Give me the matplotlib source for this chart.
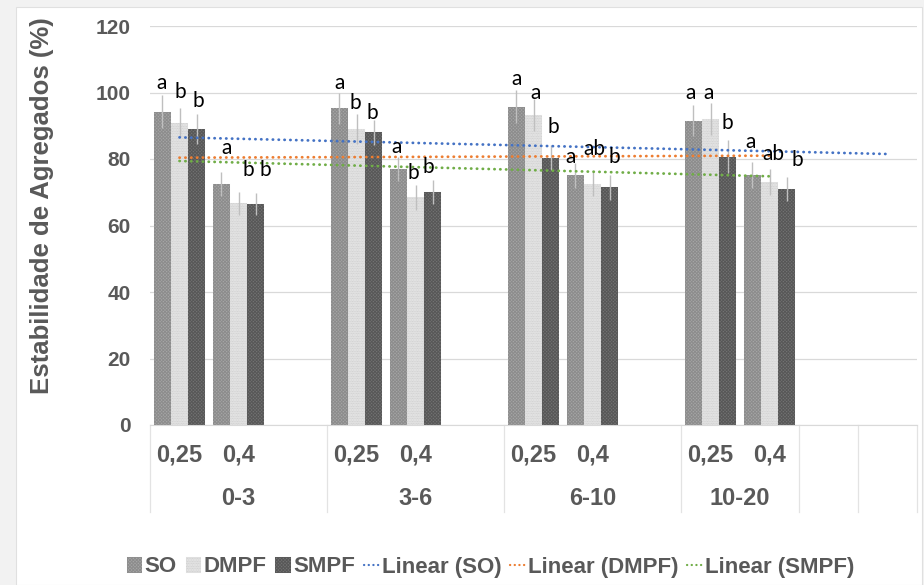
import numpy as np
import matplotlib
matplotlib.use("Agg")
import matplotlib.pyplot as plt
from matplotlib.patches import Patch, Rectangle
from matplotlib.lines import Line2D

# dados
depths = ['0-3', '3-6', '6-10', '10-20']
sizes = ['0,25', '0,4']
series = ['SO', 'DMPF', 'SMPF']

so = [94.2, 72.4, 95.2, 77.1, 95.7, 75.1, 91.5, 75.2]
dmpf = [90.9, 66.7, 89.0, 68.5, 93.2, 72.5, 92.0, 73.0]
smpf = [89.0, 66.4, 88.0, 70.1, 80.4, 71.5, 80.7, 71.0]

so_err = [4.9, 3.6, 4.8, 3.6, 5.0, 3.8, 4.7, 3.8]
dmpf_err = [4.3, 3.5, 4.5, 3.7, 4.8, 3.7, 4.7, 3.9]
smpf_err = [4.5, 3.3, 3.7, 3.6, 3.8, 3.7, 5.0, 3.5]

so_let = ['a', 'a', 'a', 'a', 'a', 'a', 'a', 'a']
dmpf_let = ['b', 'b', 'b', 'b', 'a', 'ab', 'a', 'ab']
smpf_let = ['b', 'b', 'b', 'b', 'b', 'b', 'b', 'b']

# posicao das letras: altura e deslocamento lateral
so_let_y = [102.9, 83.3, 102.9, 83.6, 104.1, 80.7, 99.9, 85.2]
dmpf_let_y = [100.2, 76.7, 96.8, 75.8, 99.8, 83.0, 99.9, 81.4]
smpf_let_y = [97.5, 76.7, 93.8, 77.6, 89.7, 80.5, 90.7, 79.7]
so_let_dx = [-0.02, 0.08, 0.0, -0.03, 0.0, -0.08, -0.04, -0.03]
dmpf_let_dx = [0.02, 0.16, -0.02, -0.04, 0.03, 0.03, -0.03, 0.06]
smpf_let_dx = [0.03, 0.16, -0.02, -0.08, 0.04, 0.08, 0.0, 0.18]

# linhas de tendencia (inicio, fim) e ultima categoria
trend_so = [86.5, 81.5]
trend_dmpf = [80.4, 81.0]
trend_smpf = [79.4, 74.8]
trend_end = [12, 10, 10]

plt.rcParams['font.family'] = ['Liberation Sans', 'DejaVu Sans']
plt.rcParams['hatch.linewidth'] = 0.7
gray = '#595959'

fig = plt.figure(figsize=(9.24, 5.85), dpi=100, facecolor='#f2f2f2')
fig.patches.append(Rectangle((16 / 924, 0), 906 / 924, 578 / 585,
                             transform=fig.transFigure, facecolor='white',
                             edgecolor='#e0e0e0', lw=0.8, zorder=-1))
ax = fig.add_axes([150 / 924, 1 - 425 / 585, 767 / 924, 399 / 585])
ax.set_zorder(2)
ax.set_facecolor('none')

# posicao de cada barra: 3 categorias por profundidade (a ultima vazia)
slots = []
for g in range(len(depths)):
    for k in range(len(sizes)):
        slots.append(3 * g + k + 0.5)
slots = np.array(slots)

w = 0.28
offs = [-0.29, 0.0, 0.29]
vals = [so, dmpf, smpf]
errs = [so_err, dmpf_err, smpf_err]
lets = [so_let, dmpf_let, smpf_let]
lets_y = [so_let_y, dmpf_let_y, smpf_let_y]
lets_dx = [so_let_dx, dmpf_let_dx, smpf_let_dx]
faces = ['#a6a6a6', '#ececec', '#737373']
hatch_c = ['#8c8c8c', '#c8c8c8', '#575757']
hatches = ['xxxxxxxxxx', '..........', 'xxxxxxxxxx']

for i in range(3):
    ax.bar(slots + offs[i], vals[i], width=w, facecolor=faces[i], edgecolor=hatch_c[i],
           hatch=hatches[i], linewidth=0.01, zorder=2)
    ax.errorbar(slots + offs[i], vals[i], yerr=errs[i], fmt='none',
                ecolor='#bfbfbf', elinewidth=1.0, capsize=0, zorder=3)
    for j in range(len(slots)):
        ax.text(slots[j] + offs[i] + lets_dx[i][j], lets_y[i][j], lets[i][j],
                ha='center', va='center', fontsize=15, family=['Lato', 'DejaVu Sans'],
                color='black', zorder=5)

# tendencias
trends = [trend_so, trend_dmpf, trend_smpf]
tcolors = ['#4472C4', '#ED7D31', '#70AD47']
for i in range(3):
    ax.plot([0.5, trend_end[i] + 0.5], trends[i], color=tcolors[i], lw=2.0,
            linestyle=(0, (0.1, 2.0)), dash_capstyle='round', zorder=4)

ax.set_xlim(0, 13)
ax.set_ylim(0, 120)
ax.set_yticks(np.arange(0, 121, 20))
ax.yaxis.grid(True, color='#d9d9d9', lw=0.9, zorder=0)
ax.set_axisbelow(True)
ax.set_xticks([])
ax.tick_params(axis='y', length=0, pad=14, labelsize=15, labelcolor=gray)
for t in ax.get_yticklabels():
    t.set_fontweight('bold')
for s in ['top', 'right', 'left']:
    ax.spines[s].set_visible(False)
ax.spines['bottom'].set_color('#d9d9d9')

# rotulos de categoria em dois niveis
tr = ax.get_xaxis_transform()
for g in range(len(depths)):
    for k in range(len(sizes)):
        ax.text(3 * g + k + 0.5, -0.075, sizes[k], transform=tr, ha='center', va='center',
                fontsize=17, fontweight='bold', color=gray)
    ax.text(3 * g + 1.5 if g < 3 else 3 * g + 1.0, -0.185, depths[g], transform=tr,
            ha='center', va='center', fontsize=17, fontweight='bold', color=gray)
for xb in [0, 3, 6, 9, 11, 12, 13]:
    ax.plot([xb, xb], [0, -0.218], transform=tr, color='#e3e3e3', lw=0.9, clip_on=False)

fig.text(0.045, 1 - 206 / 585, 'Estabilidade de Agregados (%)', rotation=90,
         ha='center', va='center', fontsize=18.5, fontweight='bold', color=gray)

handles = []
for i in range(3):
    handles.append(Patch(facecolor=faces[i], edgecolor=hatch_c[i], hatch=hatches[i],
                         linewidth=0.01, label=series[i]))
for i in range(3):
    handles.append(Line2D([], [], color=tcolors[i], lw=1.6, linestyle=(0, (0.1, 2.0)),
                          dash_capstyle='round', label='Linear (' + series[i] + ')'))
leg = fig.legend(handles=handles, loc='center', bbox_to_anchor=(0.531, 1 - 567 / 585),
                 ncol=6, frameon=False, handlelength=0.7, handleheight=0.7,
                 handletextpad=0.1, columnspacing=0.4,
                 prop={'weight': 'bold', 'size': 16})
for t in leg.get_texts():
    t.set_color(gray)

fig.savefig('out.png', dpi=100, facecolor=fig.get_facecolor())
